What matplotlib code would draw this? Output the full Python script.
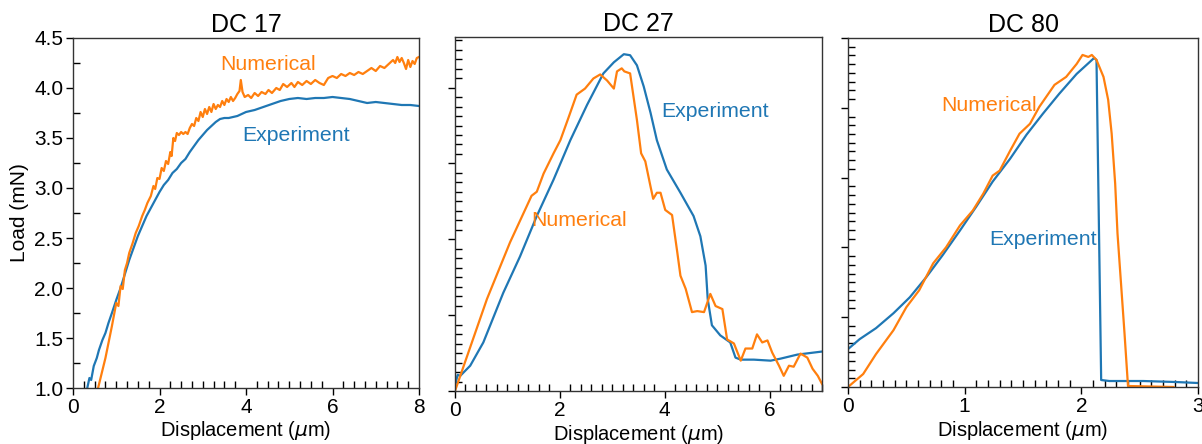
import matplotlib
matplotlib.use("Agg")
import matplotlib.pyplot as plt
from matplotlib.ticker import MultipleLocator

plt.rcParams['font.family'] = ['Liberation Sans', 'DejaVu Sans']
plt.rcParams['mathtext.fontset'] = 'dejavusans'

BLUE = '#1f77b4'
ORANGE = '#ff7f0e'

titles = ['DC 17', 'DC 27', 'DC 80']
xlabel = r'Displacement ($\mu$m)'
ylabel = 'Load (mN)'

# ---- DC 17 ----
dc17_exp_x = [0.33, 0.38, 0.42, 0.48, 0.55, 0.60, 0.68, 0.75, 0.82, 0.90, 1.00, 1.10, 1.20, 1.30,
              1.40, 1.50, 1.60, 1.70, 1.80, 1.90, 2.00, 2.10, 2.20, 2.30, 2.40, 2.50, 2.60, 2.70,
              2.80, 2.90, 3.00, 3.10, 3.20, 3.30, 3.40, 3.50, 3.60, 3.70, 3.80, 3.90, 4.00, 4.20,
              4.40, 4.60, 4.80, 5.00, 5.20, 5.40, 5.60, 5.80, 6.00, 6.20, 6.40, 6.60, 6.80, 7.00,
              7.20, 7.40, 7.60, 7.80, 8.00]
dc17_exp_y = [1.00, 1.10, 1.08, 1.22, 1.30, 1.38, 1.48, 1.55, 1.65, 1.75, 1.88, 2.00, 2.14, 2.28,
              2.40, 2.52, 2.62, 2.72, 2.80, 2.88, 2.96, 3.03, 3.08, 3.15, 3.19, 3.25, 3.29, 3.36,
              3.42, 3.48, 3.53, 3.58, 3.62, 3.66, 3.69, 3.70, 3.70, 3.71, 3.72, 3.74, 3.76, 3.78,
              3.81, 3.84, 3.87, 3.89, 3.90, 3.89, 3.90, 3.90, 3.91, 3.90, 3.89, 3.87, 3.85, 3.86,
              3.85, 3.84, 3.83, 3.83, 3.82]
dc17_num_x = [0.58, 0.75, 0.90, 1.00, 1.05, 1.10, 1.15, 1.20, 1.25, 1.30, 1.38, 1.45, 1.52, 1.60,
              1.66, 1.72, 1.80, 1.86, 1.90, 1.95, 2.00, 2.05, 2.10, 2.15, 2.20, 2.25, 2.28, 2.32,
              2.36, 2.40, 2.45, 2.50, 2.55, 2.60, 2.65, 2.70, 2.75, 2.80, 2.85, 2.90, 2.95, 3.00,
              3.05, 3.10, 3.15, 3.20, 3.25, 3.30, 3.35, 3.40, 3.45, 3.50, 3.55, 3.60, 3.65, 3.70,
              3.75, 3.80, 3.85, 3.88, 3.92, 3.97, 4.05, 4.12, 4.20, 4.28, 4.36, 4.45, 4.52, 4.60,
              4.70, 4.78, 4.86, 4.95, 5.05, 5.12, 5.20, 5.30, 5.40, 5.50, 5.60, 5.70, 5.80, 5.90,
              6.00, 6.10, 6.20, 6.30, 6.40, 6.50, 6.60, 6.70, 6.80, 6.90, 7.00, 7.10, 7.20, 7.30,
              7.40, 7.45, 7.50, 7.55, 7.60, 7.65, 7.70, 7.75, 7.80, 7.85, 7.90, 7.95, 8.00]
dc17_num_y = [1.00, 1.30, 1.62, 1.85, 1.82, 2.02, 1.99, 2.18, 2.25, 2.35, 2.45, 2.55, 2.62, 2.72,
              2.78, 2.85, 2.92, 3.02, 2.99, 3.10, 3.09, 3.20, 3.17, 3.27, 3.24, 3.36, 3.32, 3.50,
              3.47, 3.55, 3.53, 3.56, 3.54, 3.56, 3.54, 3.60, 3.64, 3.62, 3.70, 3.67, 3.76, 3.71,
              3.79, 3.74, 3.81, 3.76, 3.84, 3.79, 3.83, 3.81, 3.87, 3.83, 3.89, 3.86, 3.91, 3.87,
              3.90, 3.94, 3.97, 4.08, 3.96, 3.91, 3.93, 3.90, 3.95, 3.92, 3.96, 3.94, 3.98, 3.95,
              4.00, 3.98, 4.04, 4.01, 4.05, 4.01, 4.06, 4.03, 4.07, 4.04, 4.08, 4.05, 4.03, 4.10,
              4.12, 4.10, 4.14, 4.12, 4.15, 4.13, 4.16, 4.14, 4.17, 4.20, 4.17, 4.22, 4.20, 4.24,
              4.28, 4.25, 4.31, 4.26, 4.30, 4.25, 4.19, 4.28, 4.21, 4.27, 4.24, 4.30, 4.31]

# ---- DC 27 ----
dc27_exp_x = [0.00, 0.05, 0.10, 0.29, 0.54, 0.92, 1.24, 1.56, 1.88, 2.20, 2.52, 2.83, 3.03, 3.22,
              3.34, 3.47, 3.60, 3.73, 3.85, 4.04, 4.30, 4.55, 4.68, 4.78, 4.82, 4.90, 5.06, 5.25,
              5.35, 5.45, 5.70, 6.02, 6.21, 6.53, 7.00]
dc27_exp_y = [1.05, 1.16, 1.15, 1.25, 1.48, 1.97, 2.33, 2.73, 3.09, 3.48, 3.83, 4.14, 4.25, 4.33,
              4.32, 4.22, 4.01, 3.75, 3.48, 3.19, 2.96, 2.73, 2.53, 2.24, 1.91, 1.65, 1.55, 1.48,
              1.33, 1.31, 1.31, 1.30, 1.32, 1.36, 1.39]
dc27_num_x = [0.00, 0.61, 1.05, 1.46, 1.56, 1.69, 1.88, 2.01, 2.17, 2.32, 2.48, 2.64, 2.77, 2.90,
              3.03, 3.09, 3.18, 3.23, 3.34, 3.47, 3.55, 3.63, 3.73, 3.78, 3.85, 3.92, 4.01, 4.14,
              4.24, 4.30, 4.40, 4.52, 4.62, 4.75, 4.87, 4.97, 5.10, 5.19, 5.32, 5.45, 5.54, 5.67,
              5.76, 5.86, 5.96, 6.05, 6.18, 6.27, 6.37, 6.46, 6.59, 6.72, 6.82, 6.92, 7.00]
dc27_num_y = [1.00, 1.91, 2.47, 2.93, 2.97, 3.15, 3.35, 3.48, 3.71, 3.93, 3.99, 4.09, 4.13, 4.07,
              3.99, 4.16, 4.19, 4.16, 4.14, 3.68, 3.35, 3.27, 3.02, 2.90, 2.96, 2.96, 2.79, 2.74,
              2.37, 2.14, 2.01, 1.78, 1.79, 1.78, 1.96, 1.84, 1.81, 1.51, 1.47, 1.30, 1.42, 1.42,
              1.56, 1.48, 1.50, 1.38, 1.25, 1.15, 1.25, 1.24, 1.37, 1.33, 1.22, 1.15, 1.07]

# ---- DC 80 ----
dc80_exp_x = [0.00, 0.10, 0.24, 0.39, 0.53, 0.67, 0.81, 0.96, 1.10, 1.24, 1.39, 1.53, 1.67, 1.81,
              1.96, 2.11, 2.13, 2.17, 2.24, 2.53, 2.81, 3.00]
dc80_exp_y = [1.38, 1.48, 1.59, 1.74, 1.90, 2.10, 2.32, 2.57, 2.81, 3.06, 3.29, 3.53, 3.74, 3.94,
              4.14, 4.30, 4.28, 1.07, 1.06, 1.06, 1.05, 1.04]
dc80_num_x = [0.00, 0.13, 0.24, 0.39, 0.50, 0.61, 0.73, 0.84, 0.96, 1.07, 1.16, 1.24, 1.30, 1.39,
              1.47, 1.56, 1.64, 1.77, 1.87, 1.96, 2.01, 2.06, 2.09, 2.13, 2.19, 2.23, 2.26, 2.29,
              2.31, 2.34, 2.37, 2.40, 2.79]
dc80_num_y = [1.00, 1.13, 1.33, 1.57, 1.80, 1.97, 2.24, 2.40, 2.62, 2.77, 2.94, 3.12, 3.17, 3.37,
              3.54, 3.64, 3.81, 4.03, 4.11, 4.24, 4.33, 4.31, 4.33, 4.28, 4.11, 3.88, 3.54, 3.04,
              2.54, 2.04, 1.54, 1.01, 1.00]

W, H = 1202, 444
fig = plt.figure(figsize=(W / 100, H / 100), dpi=100)

def px_axes(l, r, t, b):
    return fig.add_axes([l / W, 1 - b / H, (r - l) / W, (b - t) / H])

ax1 = px_axes(73, 419, 38, 388)
ax2 = px_axes(455, 822, 37, 391)
ax3 = px_axes(848, 1198, 38, 387)

lw = 1.6
ax1.plot(dc17_exp_x, dc17_exp_y, color=BLUE, lw=lw)
ax1.plot(dc17_num_x, dc17_num_y, color=ORANGE, lw=lw)
ax2.plot(dc27_exp_x, dc27_exp_y, color=BLUE, lw=lw)
ax2.plot(dc27_num_x, dc27_num_y, color=ORANGE, lw=lw)
ax3.plot(dc80_exp_x, dc80_exp_y, color=BLUE, lw=lw)
ax3.plot(dc80_num_x, dc80_num_y, color=ORANGE, lw=lw)

xlims = [8, 7, 3]
xmajor = [2, 2, 1]
xminor = [0.25, 0.2, 0.1]
ymajor = [0.5, 0.75, 0.7]
yminor = [0.25, 0.09375, 0.0875]

for i, ax in enumerate([ax1, ax2, ax3]):
    ax.set_xlim(0, xlims[i])
    ax.set_ylim(1.0, 4.5)
    ax.xaxis.set_major_locator(MultipleLocator(xmajor[i]))
    ax.xaxis.set_minor_locator(MultipleLocator(xminor[i]))
    ax.yaxis.set_major_locator(MultipleLocator(ymajor[i], offset=1.0))
    ax.yaxis.set_minor_locator(MultipleLocator(yminor[i], offset=1.0))
    ax.tick_params(which='major', direction='out', length=5, width=1, labelsize=15, pad=2)
    ax.tick_params(which='minor', direction='in', length=5, width=1)
    ax.set_title(titles[i], fontsize=18, pad=4)
    ax.set_xlabel(xlabel, fontsize=14.5, labelpad=2)
    for s in ax.spines.values():
        s.set_linewidth(1.0)
        s.set_color('#333333')
    if i > 0:
        ax.tick_params(axis='y', labelleft=False)

ax1.set_ylabel(ylabel, fontsize=15, labelpad=4)

fs = 15.3
ax1.text(3.40, 4.23, 'Numerical', color=ORANGE, fontsize=fs, va='center', ha='left')
ax1.text(3.91, 3.52, 'Experiment', color=BLUE, fontsize=fs, va='center', ha='left')
ax2.text(3.94, 3.76, 'Experiment', color=BLUE, fontsize=fs, va='center', ha='left')
ax2.text(1.45, 2.69, 'Numerical', color=ORANGE, fontsize=fs, va='center', ha='left')
ax3.text(0.80, 3.82, 'Numerical', color=ORANGE, fontsize=fs, va='center', ha='left')
ax3.text(1.21, 2.48, 'Experiment', color=BLUE, fontsize=fs, va='center', ha='left')

fig.savefig('out.png', dpi=100)
